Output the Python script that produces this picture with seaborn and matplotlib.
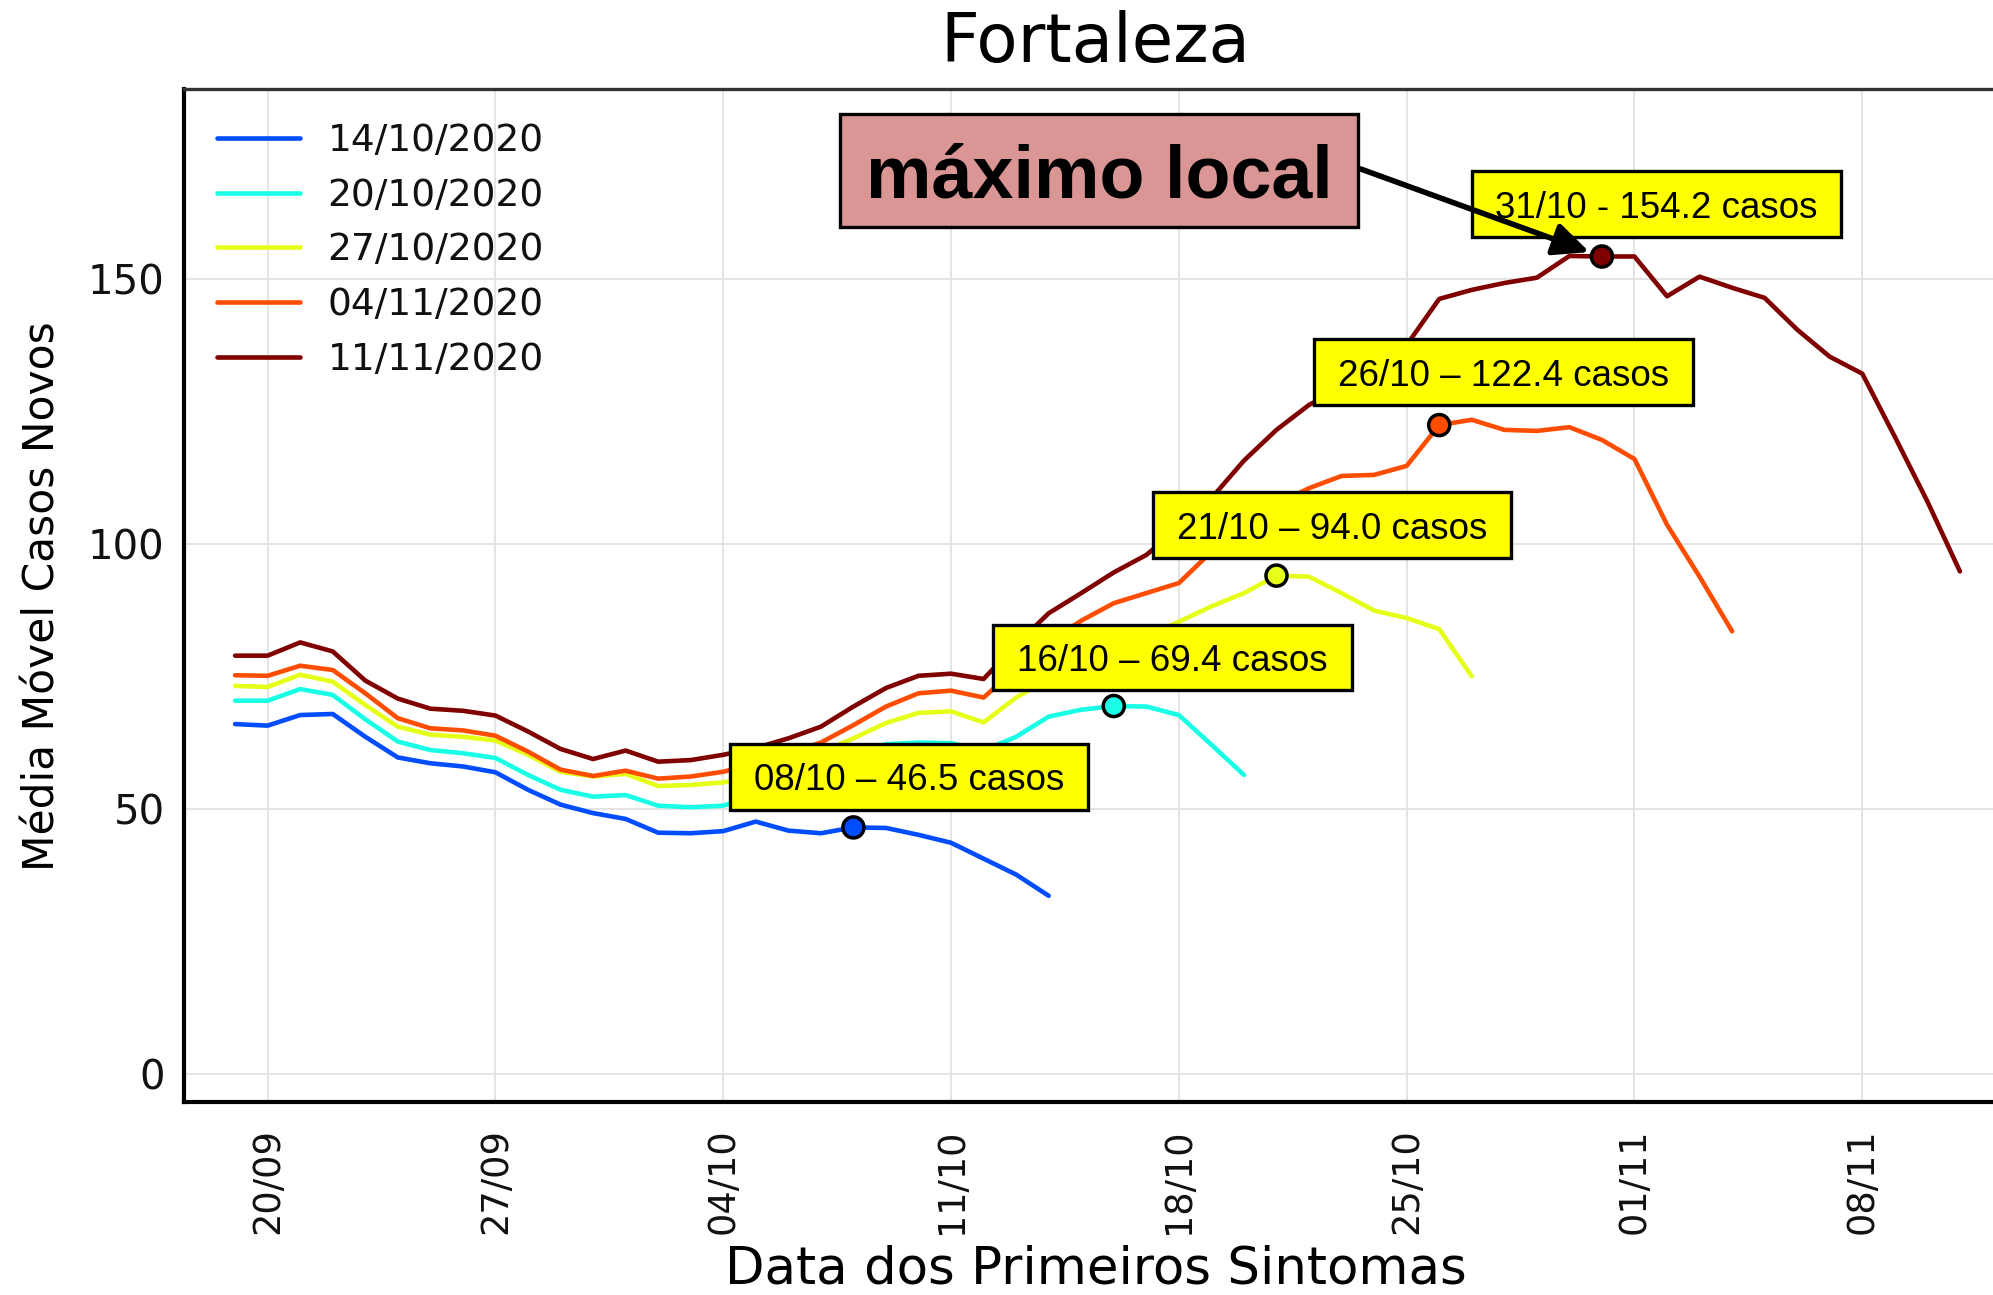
import numpy as np
import pandas as pd
import matplotlib
matplotlib.use("Agg")
import matplotlib.pyplot as plt
import matplotlib.dates as mdates
from matplotlib.patches import Rectangle, FancyArrowPatch
import seaborn as sns

# ---------------- data ----------------
start_date = "2020-09-19"
series_labels = ["14/10/2020", "20/10/2020", "27/10/2020", "04/11/2020", "11/11/2020"]

v_14_10 = [66.0, 65.7, 67.7, 67.9, 63.6, 59.7, 58.6, 58.0, 56.9, 53.6, 50.8, 49.2, 48.1,
           45.5, 45.4, 45.8, 47.6, 45.9, 45.4, 46.5, 46.4, 45.1, 43.6, 40.6, 37.6, 33.6]
v_20_10 = [70.4, 70.4, 72.6, 71.5, 66.9, 62.7, 61.1, 60.5, 59.6, 56.4, 53.6, 52.3, 52.6,
           50.6, 50.3, 50.6, 52.5, 54.5, 57.0, 60.0, 62.2, 62.5, 62.4, 61.0, 63.6, 67.4,
           68.7, 69.4, 69.3, 67.7, 62.1, 56.4]
v_27_10 = [73.2, 73.0, 75.3, 74.0, 69.6, 65.5, 64.0, 63.6, 62.9, 60.2, 57.0, 56.1, 56.6,
           54.3, 54.5, 55.0, 56.2, 58.3, 60.8, 63.3, 66.2, 68.1, 68.4, 66.3, 71.0, 74.5,
           77.5, 80.0, 82.5, 85.3, 88.2, 90.7, 94.0, 93.8, 90.7, 87.4, 86.0, 83.9, 75.0]
v_04_11 = [75.2, 75.1, 77.0, 76.2, 71.8, 67.1, 65.2, 64.8, 63.8, 60.8, 57.4, 56.2, 57.2,
           55.7, 56.1, 57.0, 58.6, 60.5, 62.5, 65.8, 69.3, 71.8, 72.3, 71.0, 76.5, 81.5,
           85.5, 88.8, 90.7, 92.6, 98.5, 103.0, 107.5, 110.5, 112.8, 113.0, 114.7, 122.4,
           123.4, 121.5, 121.3, 122.0, 119.6, 116.0, 103.6, 93.8, 83.5]
v_11_11 = [78.9, 78.9, 81.4, 79.7, 74.2, 70.8, 68.9, 68.5, 67.6, 64.6, 61.3, 59.4, 61.0,
           58.9, 59.2, 60.2, 61.5, 63.3, 65.5, 69.3, 72.8, 75.1, 75.5, 74.5, 81.0, 86.9,
           90.7, 94.6, 97.9, 103.0, 108.6, 115.7, 121.5, 126.2, 129.5, 133.0, 137.5, 146.2,
           147.9, 149.2, 150.2, 154.3, 154.2, 154.2, 146.7, 150.4, 148.3, 146.4, 140.4,
           135.3, 132.1, 120.2, 108.0, 94.8]

peak_dates = ["2020-10-08", "2020-10-16", "2020-10-21", "2020-10-26", "2020-10-31"]
peak_values = [46.5, 69.4, 94.0, 122.4, 154.2]
peak_texts = ["08/10 – 46.5 casos", "16/10 – 69.4 casos", "21/10 – 94.0 casos",
              "26/10 – 122.4 casos", "31/10 - 154.2 casos"]
highlight_text = "máximo local"

xtick_dates = ["2020-09-20", "2020-09-27", "2020-10-04", "2020-10-11",
               "2020-10-18", "2020-10-25", "2020-11-01", "2020-11-08"]
yticks = [0, 50, 100, 150]

title = "Fortaleza"
xlabel = "Data dos Primeiros Sintomas"
ylabel = "Média Móvel Casos Novos"

colors = ["#004cff", "#19ffe6", "#e6ff19", "#ff4d00", "#800000"]

# ---------------- build table ----------------
all_series = [v_14_10, v_20_10, v_27_10, v_04_11, v_11_11]
frames = []
for lab, vals in zip(series_labels, all_series):
    frames.append(pd.DataFrame({
        "date": pd.date_range(start_date, periods=len(vals), freq="D"),
        "value": vals,
        "serie": lab,
    }))
df = pd.concat(frames, ignore_index=True)
peaks = pd.DataFrame({"date": pd.to_datetime(peak_dates), "value": peak_values,
                      "serie": series_labels})
palette = dict(zip(series_labels, colors))

# ---------------- figure ----------------
W, H = 1993, 1295
sns.set_style("white")
plt.rcParams["font.family"] = ["DejaVu Sans"]
plt.rcParams["text.color"] = "black"
plt.rcParams["axes.labelcolor"] = "black"
plt.rcParams["xtick.color"] = "black"
plt.rcParams["ytick.color"] = "black"
fig = plt.figure(figsize=(W / 100, H / 100), dpi=100)
ax = fig.add_axes([184 / W, 1 - 1102 / H, (2025 - 184) / W, (1102 - 89) / H])

sns.lineplot(data=df, x="date", y="value", hue="serie", palette=palette,
             linewidth=3.3, ax=ax, sort=False, zorder=3)
sns.scatterplot(data=peaks, x="date", y="value", hue="serie", palette=palette,
                s=230, edgecolor="black", linewidth=2.5, ax=ax, legend=False, zorder=5)

x0 = pd.Timestamp("2020-09-20") - pd.Timedelta(days=2.57)
x1 = pd.Timestamp("2020-09-20") + pd.Timedelta(days=54)
ax.set_xlim(x0, x1)
ax.set_ylim(-5.3, 185.8)
ax.set_xticks(pd.to_datetime(xtick_dates))
ax.xaxis.set_major_formatter(mdates.DateFormatter("%d/%m"))
ax.set_yticks(yticks)
ax.set_xlabel("")
ax.set_ylabel("")
ax.grid(True, color="#e2e2e2", linewidth=1.3)
ax.set_axisbelow(True)

ax.tick_params(axis="x", direction="in", length=11, width=2, labelsize=26.5,
               pad=19, labelrotation=90, colors="black")
ax.tick_params(axis="y", direction="in", length=11, width=2.5, labelsize=29,
               pad=14, colors="black")
for lab in ax.get_xticklabels() + ax.get_yticklabels():
    lab.set_color("#111111")

for s in ["left", "bottom"]:
    ax.spines[s].set_linewidth(3)
    ax.spines[s].set_color("black")
ax.spines["top"].set_linewidth(2.4)
ax.spines["top"].set_color("#333333")
ax.spines["right"].set_visible(False)

handles, labels = ax.get_legend_handles_labels()
leg = ax.legend(handles, labels, loc="upper left",
                bbox_to_anchor=(217 / W, 1 - 123 / H), bbox_transform=fig.transFigure,
                frameon=False, fontsize=27, handlelength=2.2, handletextpad=0.75,
                labelspacing=0.5, borderpad=0, borderaxespad=0)
for line in leg.get_lines():
    line.set_linewidth(3.3)
for t in leg.get_texts():
    t.set_color("#111111")

fig.text(1095 / W, 1 - 62 / H, title, ha="center", va="baseline", fontsize=48.5,
         color="black")
fig.text(1096 / W, 1 - 1284 / H, xlabel, ha="center", va="baseline", fontsize=37,
         color="black")
fig.text(43 / W, 1 - 596 / H, ylabel, ha="center", va="center", rotation=90,
         fontsize=30.5, color="black")

# ---------------- annotation boxes ----------------
def box(x_a, y_a, x_b, y_b, text, fc, fs, weight="normal"):
    rect = Rectangle((x_a / W, 1 - y_b / H), (x_b - x_a) / W, (y_b - y_a) / H,
                     transform=fig.transFigure, facecolor=fc, edgecolor="black",
                     linewidth=2.4, zorder=6)
    fig.add_artist(rect)
    fig.text((x_a + x_b) / 2 / W, 1 - (y_a + y_b) / 2 / H, text, ha="center",
             va="center_baseline", fontsize=fs, fontweight=weight, color="black",
             family=["Liberation Sans", "DejaVu Sans"], zorder=7)

box_pos = [(730, 744, 1088, 810), (993, 625, 1352, 690), (1153, 492, 1511, 558),
           (1314, 339, 1693, 405), (1472, 171, 1841, 237)]
for (xa, ya, xb, yb), t in zip(box_pos, peak_texts):
    box(xa, ya, xb, yb, t, "#ffff00", 26.5)

box(840, 114, 1358, 227, highlight_text, "#d99694", 53, "bold")

arrow = FancyArrowPatch((1358 / W, 1 - 168 / H), (1592 / W, 1 - 253 / H),
                        transform=fig.transFigure,
                        arrowstyle="-|>,head_length=1.2,head_width=0.55",
                        mutation_scale=18, linewidth=4, color="black", zorder=9)
fig.add_artist(arrow)

fig.savefig("out.png", dpi=100)
